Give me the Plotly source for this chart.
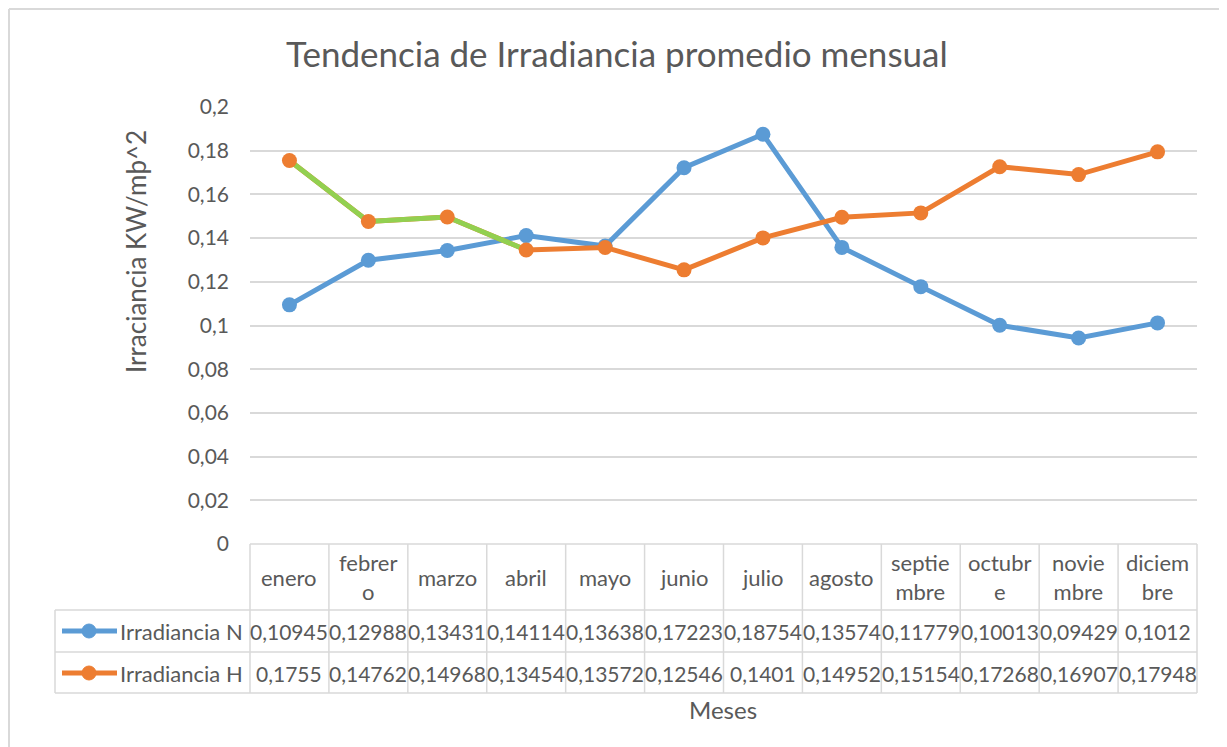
import plotly.graph_objects as go

# ---------------- data ----------------
meses = ["enero", "febrero", "marzo", "abril", "mayo", "junio", "julio",
         "agosto", "septiembre", "octubre", "noviembre", "diciembre"]
meses_tabla = ["enero", "febrer<br>o", "marzo", "abril", "mayo", "junio", "julio",
               "agosto", "septie<br>mbre", "octubr<br>e", "novie<br>mbre", "diciem<br>bre"]
irr_n = [0.10945, 0.12988, 0.13431, 0.14114, 0.13638, 0.17223, 0.18754,
         0.13574, 0.11779, 0.10013, 0.09429, 0.1012]
irr_h = [0.1755, 0.14762, 0.14968, 0.13454, 0.13572, 0.12546, 0.1401,
         0.14952, 0.15154, 0.17268, 0.16907, 0.17948]
series_names = ["Irradiancia N", "Irradiancia H"]
y_ticks = [0, 0.02, 0.04, 0.06, 0.08, 0.1, 0.12, 0.14, 0.16, 0.18, 0.2]
y_ticktext = ["0", "0,02", "0,04", "0,06", "0,08", "0,1", "0,12", "0,14",
              "0,16", "0,18", "0,2"]
titulo = "Tendencia de Irradiancia promedio mensual"
titulo_x = "Meses"
titulo_y = "Irraciancia KW/mþ^2"

# ---------------- style ----------------
OFF = 8                      # page body margin
W, H = 1227 - OFF, 747 - OFF
L, R, T, B = 250 - OFF, 1197 - OFF, 107 - OFF, 544 - OFF
BLUE = "#5B9BD5"
ORANGE = "#ED7D31"
GREEN = "#92D050"
GRID = "#D9D9D9"
TXT = "#595959"
FONT = "Lato"


def xp(px):
    """screen pixel (reference) -> paper x"""
    return (px - OFF - L) / (R - L)


def yp(py):
    """screen pixel (reference) -> paper y"""
    return (B - (py - OFF)) / (B - T)


fig = go.Figure()

fig.add_trace(go.Scatter(
    x=meses, y=irr_n, mode="lines+markers", name=series_names[0],
    line=dict(color=BLUE, width=5), marker=dict(color=BLUE, size=15),
    showlegend=False, cliponaxis=False))
fig.add_trace(go.Scatter(
    x=meses, y=irr_h, mode="lines", name=series_names[1],
    line=dict(color=ORANGE, width=5), showlegend=False, cliponaxis=False))
fig.add_trace(go.Scatter(
    x=meses[:4], y=irr_h[:4], mode="lines", hoverinfo="skip",
    line=dict(color=GREEN, width=5), showlegend=False, cliponaxis=False))
fig.add_trace(go.Scatter(
    x=meses, y=irr_h, mode="markers", name=series_names[1],
    marker=dict(color=ORANGE, size=15), showlegend=False, cliponaxis=False))

shapes = []
annotations = []

# outer frame
for x0, y0, x1, y1 in [(9, 9, 1225, 9), (9, 9, 9, 760), (1225, 9, 1225, 760)]:
    shapes.append(dict(type="line", xref="paper", yref="paper",
                       x0=xp(x0), y0=yp(y0), x1=xp(x1), y1=yp(y1),
                       line=dict(color=GRID, width=2)))

# data table grid
row_y = [544, 610, 652, 693]
col_w = (R - L) / len(meses)
for i, yy in enumerate(row_y):
    x0 = 250 if i == 0 else 55
    shapes.append(dict(type="line", xref="paper", yref="paper",
                       x0=xp(x0), x1=xp(1197), y0=yp(yy), y1=yp(yy),
                       line=dict(color=GRID, width=1.5)))
for k in range(len(meses) + 1):
    xx = 250 + k * col_w
    shapes.append(dict(type="line", xref="paper", yref="paper",
                       x0=xp(xx), x1=xp(xx), y0=yp(544), y1=yp(693),
                       line=dict(color=GRID, width=1.5)))
shapes.append(dict(type="line", xref="paper", yref="paper",
                   x0=xp(55), x1=xp(55), y0=yp(610), y1=yp(693),
                   line=dict(color=GRID, width=1.5)))

# category labels
for i, lab in enumerate(meses_tabla):
    annotations.append(dict(x=meses[i], xref="x", y=yp(577), yref="paper",
                            text=lab, showarrow=False,
                            font=dict(family=FONT, size=22, color=TXT),
                            xanchor="center", yanchor="middle"))

# series rows
rows = [(631, irr_n, BLUE, series_names[0]), (673, irr_h, ORANGE, series_names[1])]
for cy, vals, col, nm in rows:
    shapes.append(dict(type="line", xref="paper", yref="paper",
                       x0=xp(62), x1=xp(117), y0=yp(cy), y1=yp(cy),
                       line=dict(color=col, width=5)))
    shapes.append(dict(type="circle", xref="paper", yref="paper",
                       x0=xp(82), x1=xp(96), y0=yp(cy - 7), y1=yp(cy + 7),
                       fillcolor=col, line=dict(color=col, width=1)))
    annotations.append(dict(x=xp(118), xref="paper", y=yp(cy), yref="paper",
                            text=nm, showarrow=False, xanchor="left",
                            yanchor="middle",
                            font=dict(family=FONT, size=22, color=TXT)))
    for i, v in enumerate(vals):
        annotations.append(dict(x=meses[i], xref="x", y=yp(cy), yref="paper",
                                text=str(v).replace(".", ","), showarrow=False,
                                xanchor="center", yanchor="middle",
                                font=dict(family=FONT, size=21, color=TXT)))

# titles
annotations.append(dict(x=xp(617), xref="paper", y=yp(53), yref="paper",
                        text=titulo, showarrow=False, xanchor="center",
                        yanchor="middle",
                        font=dict(family=FONT, size=35, color=TXT)))
annotations.append(dict(x=xp(723), xref="paper", y=yp(709), yref="paper",
                        text=titulo_x, showarrow=False, xanchor="center",
                        yanchor="middle",
                        font=dict(family=FONT, size=24, color=TXT)))
annotations.append(dict(x=xp(136), xref="paper", y=yp(252), yref="paper",
                        text=titulo_y, showarrow=False, textangle=-90,
                        xanchor="center", yanchor="middle",
                        font=dict(family=FONT, size=26, color=TXT)))

fig.update_layout(
    width=W, height=H,
    margin=dict(l=L, r=W - R, t=T, b=H - B, pad=0),
    paper_bgcolor="white", plot_bgcolor="white",
    shapes=shapes, annotations=annotations,
    xaxis=dict(type="category", categoryorder="array", categoryarray=meses,
               range=[-0.5, len(meses) - 0.5], showticklabels=False,
               showgrid=False, zeroline=False, showline=False, ticks=""),
    yaxis=dict(range=[0, 0.2], tickvals=y_ticks, ticktext=y_ticktext,
               showgrid=True, gridcolor=GRID, gridwidth=1.5, zeroline=False,
               showline=False, ticks="", ticklabelstandoff=20,
               tickfont=dict(family=FONT, size=21, color=TXT)),
    font=dict(family=FONT, color=TXT),
)

fig.write_html("out.html")
